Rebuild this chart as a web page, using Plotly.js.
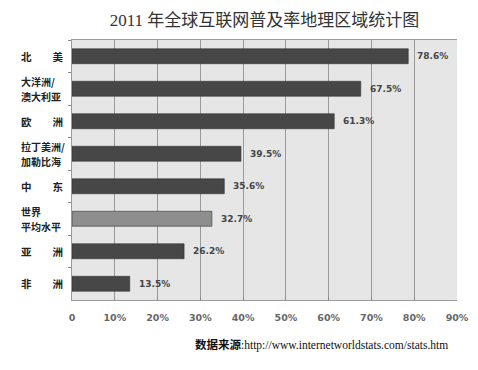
<!DOCTYPE html>
<html><head><meta charset="utf-8">
<script src="https://cdn.plot.ly/plotly-3.0.1.min.js"></script>
<style>html,body{margin:0;padding:0;background:#fff;}</style>
</head><body><div id="chart" style="width:478px;height:370px;"></div>
<script>
var categories = ["北美","大洋洲/澳大利亚","欧洲","拉丁美洲/加勒比海","中东","世界平均水平","亚洲","非洲"];
var labelLines = [["北　　美"],["大洋洲/","澳大利亚"],["欧　　洲"],["拉丁美洲/","加勒比海"],["中　　东"],["世界","平均水平"],["亚　　洲"],["非　　洲"]];
var values = [78.6, 67.5, 61.3, 39.5, 35.6, 32.7, 26.2, 13.5];
var tickVals = [0,10,20,30,40,50,60,70,80,90];
var tickTexts = ["0","10%","20%","30%","40%","50%","60%","70%","80%","90%"];

var colors = categories.map(function(c){ return c === "世界平均水平" ? "#8e8e8e" : "#474747"; });

var trace = {
  type: "bar", orientation: "h",
  x: values, y: categories,
  marker: {color: colors, line: {color: "#333", width: 0.6}},
  hoverinfo: "none"
};

var annotations = [];
categories.forEach(function(c, i){
  var lines = labelLines[i];
  lines.forEach(function(t, k){
    var shift = lines.length === 1 ? 0 : (k === 0 ? 7.5 : -7.5);
    annotations.push({
      x: -0.134, xref: "paper", y: c, yref: "y", yshift: shift,
      text: "<b>" + t + "</b>", showarrow: false,
      xanchor: "left", yanchor: "middle", align: "left", borderpad: 0,
      font: {family: "Noto Sans CJK SC", size: lines.length === 1 ? 10.5 : 10, color: "#222"}
    });
  });
  annotations.push({
    x: values[i], xref: "x", y: c, yref: "y",
    text: "<b>" + values[i].toFixed(1) + "%</b>", showarrow: false,
    xanchor: "left", xshift: 7,
    font: {family: "DejaVu Sans", size: 9, color: "#444"}
  });
});
annotations.push({
  x: (193 - 71.5) / 385.5, xref: "paper", y: -(345 - 300) / 260, yref: "paper", showarrow: false,
  text: "<b>数据来源</b>:http://www.internetworldstats.com/stats.htm",
  xanchor: "left", yanchor: "middle",
  font: {family: "Liberation Serif, Noto Sans CJK SC", size: 11.5, color: "#111"}
});

var layout = {
  width: 478, height: 370,
  margin: {l: 71.5, r: 21, t: 40, b: 70},
  paper_bgcolor: "#ffffff", plot_bgcolor: "#e6e6e6",
  showlegend: false,
  bargap: 0.54,
  title: {text: "2011 年全球互联网普及率地理区域统计图", x: 0.5, xref: "paper", xanchor: "center", y: 1 - 20/370, yanchor: "middle",
    font: {family: "Liberation Serif, Noto Sans CJK SC", size: 17, color: "#333"}},
  xaxis: {range: [0, 90], tickvals: tickVals, ticktext: tickTexts,
    showgrid: true, gridcolor: "#9a9a9a", gridwidth: 1, zeroline: false,
    showline: true, linecolor: "#9a9a9a", mirror: true,
    ticks: "inside", ticklen: 3, tickcolor: "#888", ticklabelstandoff: 9,
    tickfont: {family: "DejaVu Sans", size: 9.5, color: "#666", weight: "bold"},
    fixedrange: true},
  yaxis: {type: "category", categoryorder: "array", categoryarray: categories, autorange: "reversed",
    showticklabels: false, showgrid: false, zeroline: false,
    showline: true, linecolor: "#9a9a9a",
    ticks: "outside", tickson: "boundaries", ticklen: 3, tickcolor: "#888", fixedrange: true},
  annotations: annotations
};

Plotly.newPlot("chart", [trace], layout, {displayModeBar: false, staticPlot: true});
</script>
</body></html>
